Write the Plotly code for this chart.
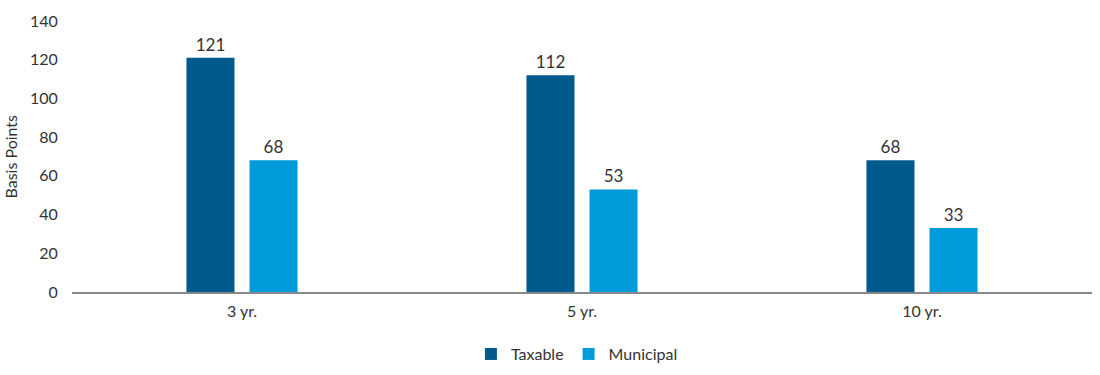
import plotly.graph_objects as go

categories = ["3 yr.", "5 yr.", "10 yr."]
taxable = [121, 112, 68]
municipal = [68, 53, 33]
y_ticks = [0, 20, 40, 60, 80, 100, 120, 140]

font_family = "Lato, Open Sans, sans-serif"
text_color = "#333333"

fig = go.Figure()
fig.add_trace(go.Bar(
    name="Taxable", x=categories, y=taxable,
    marker=dict(color="#005A8C", line=dict(width=0)),
    text=taxable, textposition="outside", cliponaxis=False,
    textfont=dict(size=17, color=text_color, family=font_family),
))
fig.add_trace(go.Bar(
    name="Municipal", x=categories, y=municipal,
    marker=dict(color="#009BDB", line=dict(width=0)),
    text=municipal, textposition="outside", cliponaxis=False,
    textfont=dict(size=17, color=text_color, family=font_family),
))

fig.update_layout(
    width=1100, height=375,
    margin=dict(l=72, r=8, t=21, b=83, autoexpand=False),
    paper_bgcolor="white", plot_bgcolor="white",
    barmode="group", bargap=0.629, bargroupgap=0.238,
    font=dict(family=font_family, size=16, color=text_color),
    legend=dict(orientation="h", x=0.495, xanchor="center", y=-0.229, yanchor="middle",
                font=dict(size=16, color=text_color), itemwidth=30,
                traceorder="normal"),
    showlegend=True,
    annotations=[dict(
        text="Basis Points", x=(10 - 72) / 1020, xref="paper", y=0.5, yref="paper",
        showarrow=False, textangle=-90, xanchor="center", yanchor="middle",
        font=dict(size=16, color=text_color),
    )],
)
fig.update_xaxes(
    showline=True, linecolor="#888888", linewidth=1.5, automargin=False,
    showgrid=False, ticks="outside", ticklen=4, tickcolor="rgba(0,0,0,0)",
    tickfont=dict(size=16, color=text_color),
)
fig.update_yaxes(
    range=[0, 140], tickvals=y_ticks, showgrid=False, zeroline=False,
    showline=False, automargin=False,
    ticks="outside", ticklen=10, tickcolor="rgba(0,0,0,0)",
    tickfont=dict(size=16, color=text_color),
)

fig.write_html(
    "out.html",
    config={"displayModeBar": False},
    post_script="document.body.style.margin='0';document.body.style.overflow='hidden';",
)
